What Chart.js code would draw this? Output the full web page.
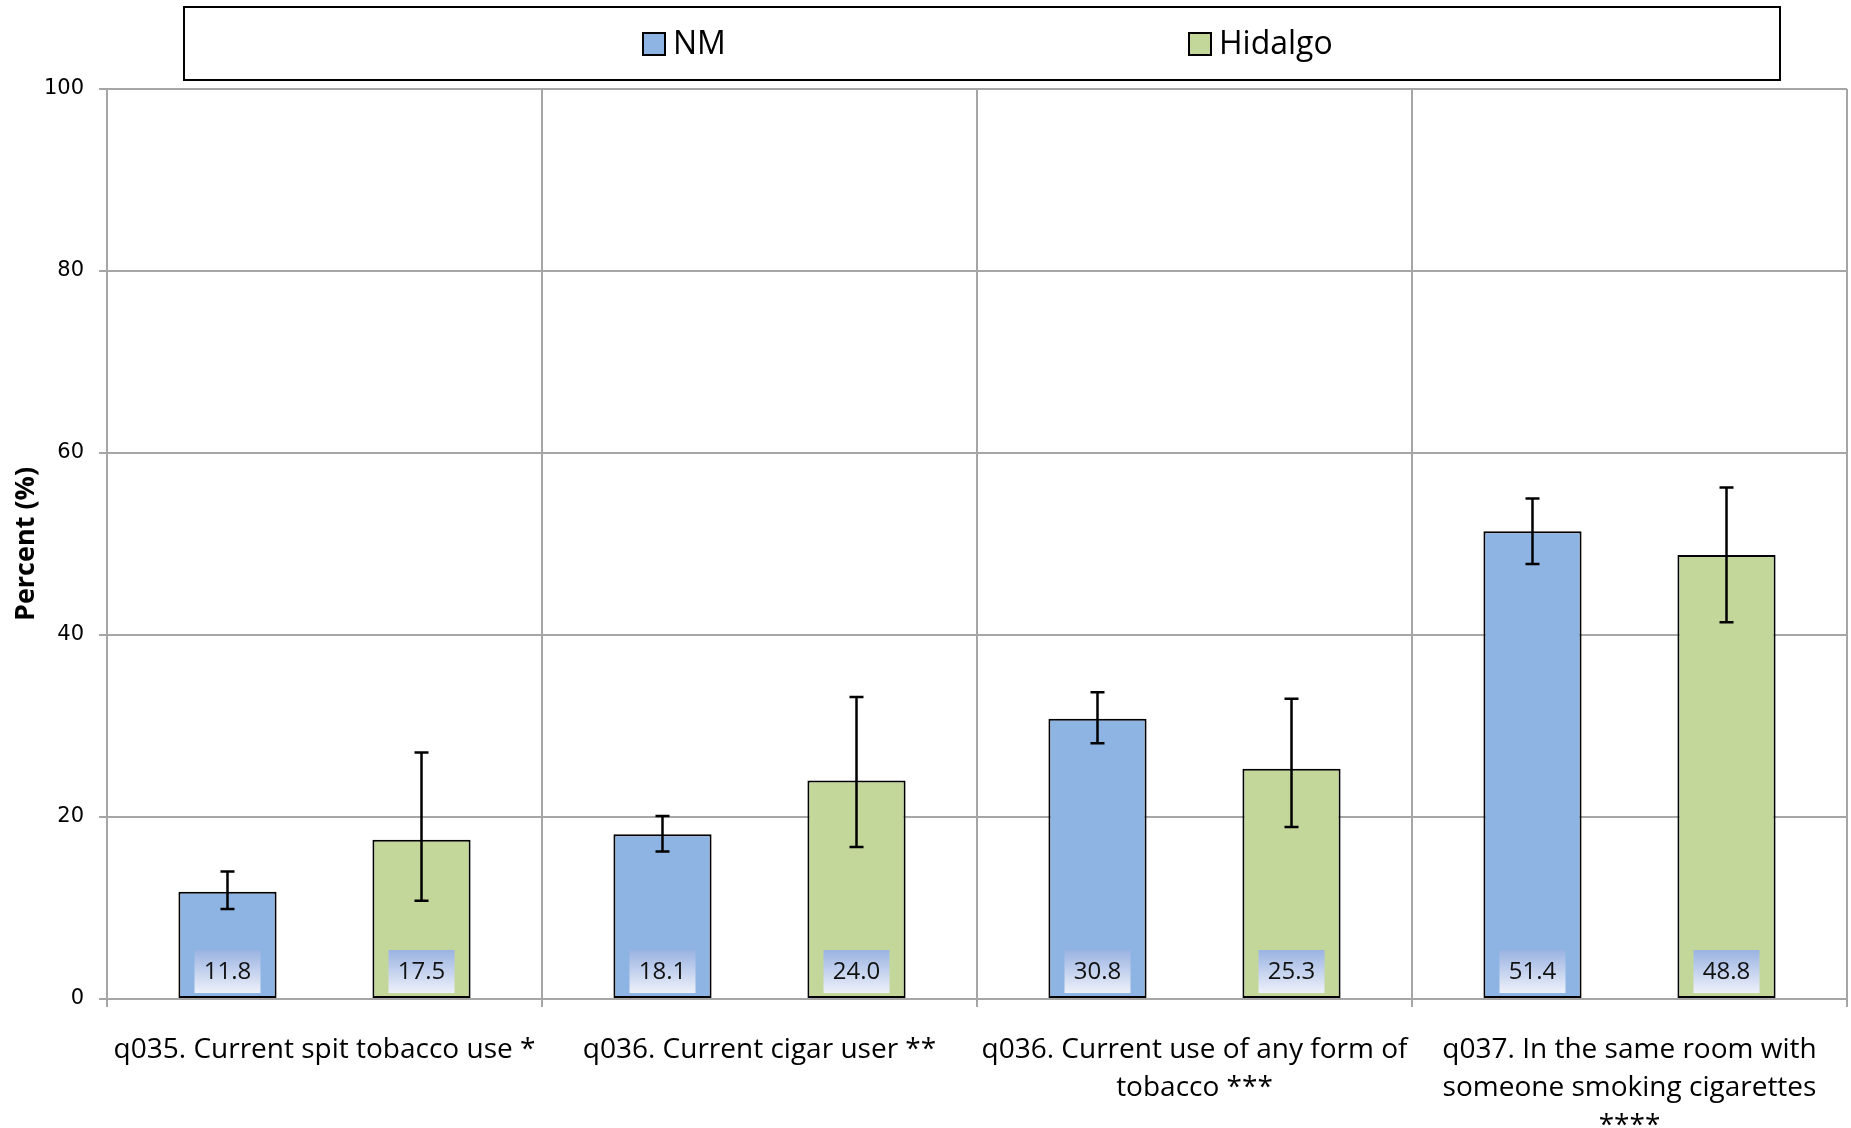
<!DOCTYPE html>
<html>
<head>
<meta charset="utf-8">
<script src="https://cdn.jsdelivr.net/npm/chart.js@4.4.1/dist/chart.umd.min.js"></script>
<style>
  html, body { margin: 0; padding: 0; background: #fff; overflow: hidden; }
  #wrap { width: 1851px; height: 1169px; position: relative; }
</style>
</head>
<body>
<div id="wrap"><canvas id="chart"></canvas></div>
<script>
// categorias (eixo x)
const categories = [
    ['q035. Current spit tobacco use *'],
    ['q036. Current cigar user **'],
    ['q036. Current use of any form of', 'tobacco ***'],
    ['q037. In the same room with', 'someone smoking cigarettes', '****']
];
const seriesNames = ['NM', 'Hidalgo'];

// valores e intervalos de confiança
const nmValues = [11.8, 18.1, 30.8, 51.4];
const nmLow = [9.9, 16.2, 28.1, 47.8];
const nmHigh = [14.0, 20.1, 33.7, 55.0];

const hidalgoValues = [17.5, 24.0, 25.3, 48.8];
const hidalgoLow = [10.8, 16.7, 18.9, 41.4];
const hidalgoHigh = [27.1, 33.2, 33.0, 56.2];

const yTicks = [0, 20, 40, 60, 80, 100];

const colors = ['#8eb4e3', '#c4d79b'];
const lows = [nmLow, hidalgoLow];
const highs = [nmHigh, hidalgoHigh];

Chart.defaults.font.family = "'Open Sans', sans-serif";
Chart.defaults.color = '#000';

// barras de erro + caixas de valor
const errorBarsPlugin = {
    id: 'errorBars',
    afterDatasetsDraw(chart) {
        const ctx = chart.ctx;
        const y = chart.scales.y;
        const y0 = y.getPixelForValue(0);
        chart.data.datasets.forEach((ds, di) => {
            const meta = chart.getDatasetMeta(di);
            meta.data.forEach((bar, i) => {
                // caixa com o valor
                const w = 66, h = 43;
                const top = y0 - 6 - h;
                const grad = ctx.createLinearGradient(0, top, 0, top + h);
                grad.addColorStop(0, '#9ab3e2');
                grad.addColorStop(1, '#eef1fa');
                ctx.save();
                ctx.fillStyle = grad;
                ctx.fillRect(bar.x - w / 2, top, w, h);
                ctx.fillStyle = '#111';
                ctx.font = "24px 'Open Sans'";
                ctx.textAlign = 'center';
                ctx.textBaseline = 'middle';
                ctx.fillText(ds.data[i].toFixed(1), bar.x, top + h / 2 + 1);
                ctx.restore();

                // barra de erro
                const yl = y.getPixelForValue(lows[di][i]);
                const yh = y.getPixelForValue(highs[di][i]);
                ctx.save();
                ctx.strokeStyle = '#000';
                ctx.lineWidth = 2.5;
                ctx.beginPath();
                ctx.moveTo(bar.x, yl);
                ctx.lineTo(bar.x, yh);
                ctx.moveTo(bar.x - 7, yl);
                ctx.lineTo(bar.x + 7, yl);
                ctx.moveTo(bar.x - 7, yh);
                ctx.lineTo(bar.x + 7, yh);
                ctx.stroke();
                ctx.restore();
            });
        });
    }
};

// legenda em caixa
const boxLegendPlugin = {
    id: 'boxLegend',
    afterDraw(chart) {
        const ctx = chart.ctx;
        ctx.save();
        ctx.strokeStyle = '#000';
        ctx.lineWidth = 2;
        ctx.strokeRect(184, 7, 1596, 73);
        const items = [643, 1189];
        ctx.font = "32px 'Open Sans'";
        ctx.textBaseline = 'middle';
        ctx.textAlign = 'left';
        seriesNames.forEach((name, i) => {
            const x = items[i];
            ctx.fillStyle = colors[i];
            ctx.fillRect(x, 33, 22, 22);
            ctx.lineWidth = 2;
            ctx.strokeRect(x, 33, 22, 22);
            ctx.fillStyle = '#000';
            ctx.fillText(name, x + 30, 45);
        });
        ctx.restore();
    }
};

new Chart(document.getElementById('chart'), {
    type: 'bar',
    data: {
        labels: categories,
        datasets: [
            {
                label: seriesNames[0],
                data: nmValues,
                backgroundColor: colors[0],
                borderColor: '#000',
                borderWidth: 2,
                borderSkipped: false
            },
            {
                label: seriesNames[1],
                data: hidalgoValues,
                backgroundColor: colors[1],
                borderColor: '#000',
                borderWidth: 2,
                borderSkipped: false
            }
        ]
    },
    options: {
        responsive: true,
        maintainAspectRatio: false,
        animation: false,
        categoryPercentage: 0.892,
        barPercentage: 0.506,
        layout: {
            padding: { top: 89, left: 10, right: 4, bottom: 0 }
        },
        plugins: {
            legend: { display: false },
            tooltip: { enabled: false }
        },
        scales: {
            x: {
                grid: {
                    color: '#a6a6a6',
                    lineWidth: 2,
                    tickLength: 8
                },
                border: { color: '#a6a6a6', width: 2 },
                ticks: {
                    font: { size: 28, lineHeight: 1.357 },
                    color: '#000',
                    padding: 24,
                    maxRotation: 0,
                    autoSkip: false
                }
            },
            y: {
                min: 0,
                max: 100,
                afterFit(axis) { axis.width = 97; },
                afterBuildTicks(axis) { axis.ticks = yTicks.map(v => ({ value: v })); },
                grid: {
                    color: '#a6a6a6',
                    lineWidth: 2,
                    tickLength: 8
                },
                border: { color: '#a6a6a6', width: 2 },
                ticks: {
                    font: { family: "'DejaVu Sans'", size: 21 },
                    color: '#000',
                    padding: 15
                },
                title: {
                    display: true,
                    text: 'Percent (%)',
                    font: { size: 27, weight: 'bold' },
                    color: '#000',
                    padding: { top: 0, bottom: 0 }
                }
            }
        }
    },
    plugins: [errorBarsPlugin, boxLegendPlugin]
});
</script>
</body>
</html>
